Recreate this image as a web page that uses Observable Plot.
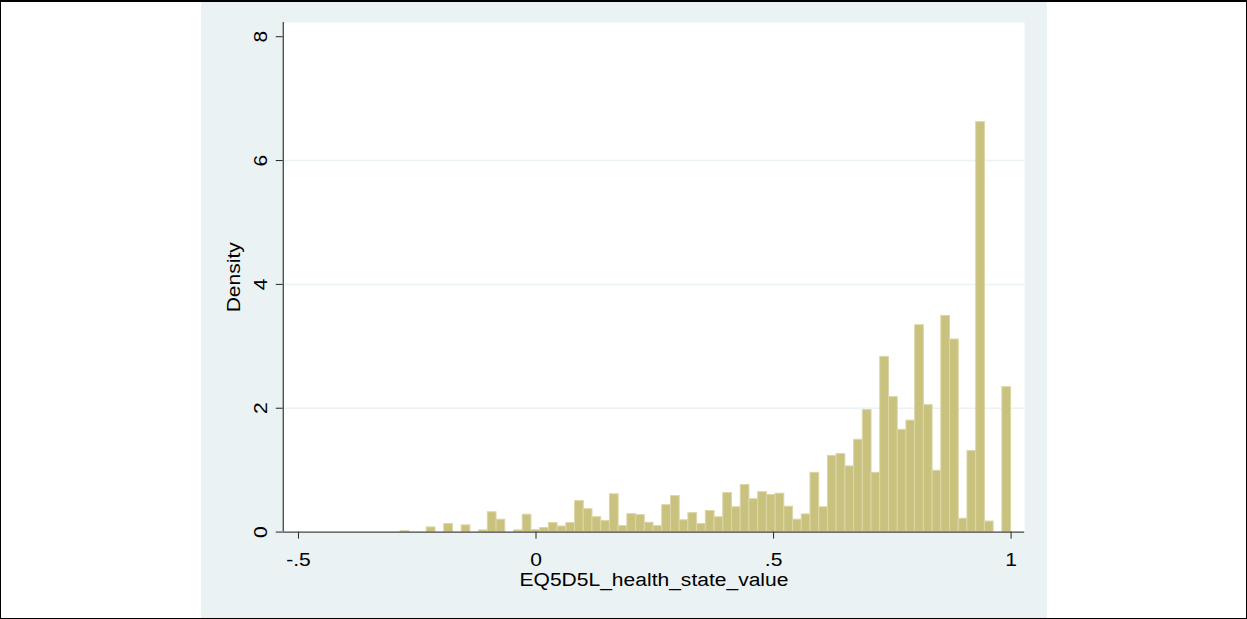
<!DOCTYPE html>
<html><head><meta charset="utf-8">
<script src="https://cdn.jsdelivr.net/npm/d3@7"></script>
<script src="https://cdn.jsdelivr.net/npm/@observablehq/plot@0.6"></script>
<style>
html,body{margin:0;padding:0;background:#fff;}
#page{position:relative;width:1247px;height:619px;box-sizing:border-box;border:1px solid #000;border-top-width:2px;overflow:hidden;}
#panel{position:absolute;left:200px;top:0;width:846px;height:100%;background:#EAF2F3;}
#chart{position:absolute;left:-1px;top:-2px;}
</style></head><body>
<div id="page"><div id="panel"></div><div id="chart"></div></div>
<script>
// Histogram of EQ5D5L_health_state_value (density), 70 bins from -0.285 to 1
const binStart = -0.285;
const binWidth = 0.018357;
const density = [
  0.015, 0, 0, 0.075, 0, 0.13, 0, 0.108, 0, 0.027,
  0.32, 0.2, 0, 0.027, 0.28, 0.03, 0.065, 0.145, 0.09, 0.145,
  0.5, 0.37, 0.24, 0.18, 0.61, 0.097, 0.29, 0.274, 0.15, 0.097,
  0.435, 0.58, 0.19, 0.306, 0.13, 0.34, 0.24, 0.63, 0.40, 0.76,
  0.53, 0.645, 0.60, 0.62, 0.41, 0.20, 0.285, 0.957, 0.40, 1.23,
  1.26, 1.06, 1.49, 1.97, 0.957, 2.83, 2.18, 1.65, 1.80, 3.34,
  2.05, 0.99, 3.49, 3.11, 0.215, 1.31, 6.62, 0.17, 0, 2.34
];
const xTicks = [-0.5, 0, 0.5, 1];
const xTickLabels = ["-.5", "0", ".5", "1"];
const yTicks = [0, 2, 4, 6, 8];
const yTickLabels = ["0", "2", "4", "6", "8"];
const yGrid = [2, 4, 6];
const xDomain = [-0.532, 1.0286];
const yDomain = [0, 8.23];
const xTitle = "EQ5D5L_health_state_value";
const yTitle = "Density";

const bins = density
  .map((d, i) => ({x1: binStart + i * binWidth, x2: binStart + (i + 1) * binWidth, density: d}))
  .filter(b => b.density > 0);

const FONT = 18;      // glyph height as in the reference
const STRETCH = 1.17; // the reference's type is drawn wide
const chart = Plot.plot({
  width: 1247,
  height: 619,
  marginLeft: 283,
  marginRight: 222,
  marginTop: 22,
  marginBottom: 87,
  style: {background: "transparent", fontFamily: "'Liberation Sans', Arial, sans-serif", fontSize: FONT + "px", color: "#000"},
  x: {domain: xDomain},
  y: {domain: yDomain},
  marks: [
    Plot.frame({fill: "white", stroke: null}),
    Plot.gridY(yGrid, {stroke: "#EAF2F3", strokeOpacity: 1, strokeWidth: 1.5}),
    Plot.rectY(bins, {x1: "x1", x2: "x2", y: "density", fill: "#C9C17E", stroke: "#DCD6A6", strokeWidth: 1}),
    Plot.axisY(yTicks, {tickSize: 7, tickPadding: 9, tickRotate: -90, fontSize: FONT, stroke: "#222", tickFormat: d => yTickLabels[yTicks.indexOf(d)], label: yTitle, labelAnchor: "center", labelOffset: 56, labelArrow: "none"}),
    Plot.axisX(xTicks, {tickSize: 7, tickPadding: 14, fontSize: FONT, stroke: "#222", tickFormat: d => xTickLabels[xTicks.indexOf(d)], label: xTitle, labelAnchor: "center", labelOffset: 54, labelArrow: "none"}),
    Plot.ruleX([xDomain[0]], {stroke: "#444", strokeWidth: 1.3}),
    Plot.ruleY([0], {stroke: "#444", strokeWidth: 1.3})
  ]
});
// widen every text along its own direction, about its anchor
chart.querySelectorAll("text").forEach(t => {
  const tr = t.getAttribute("transform") || "";
  const x = parseFloat(t.getAttribute("x")) || 0;
  t.setAttribute("transform", `${tr} translate(${x},0) scale(${STRETCH},1) translate(${-x},0)`);
});
document.getElementById("chart").appendChild(chart);
</script>
</body></html>
